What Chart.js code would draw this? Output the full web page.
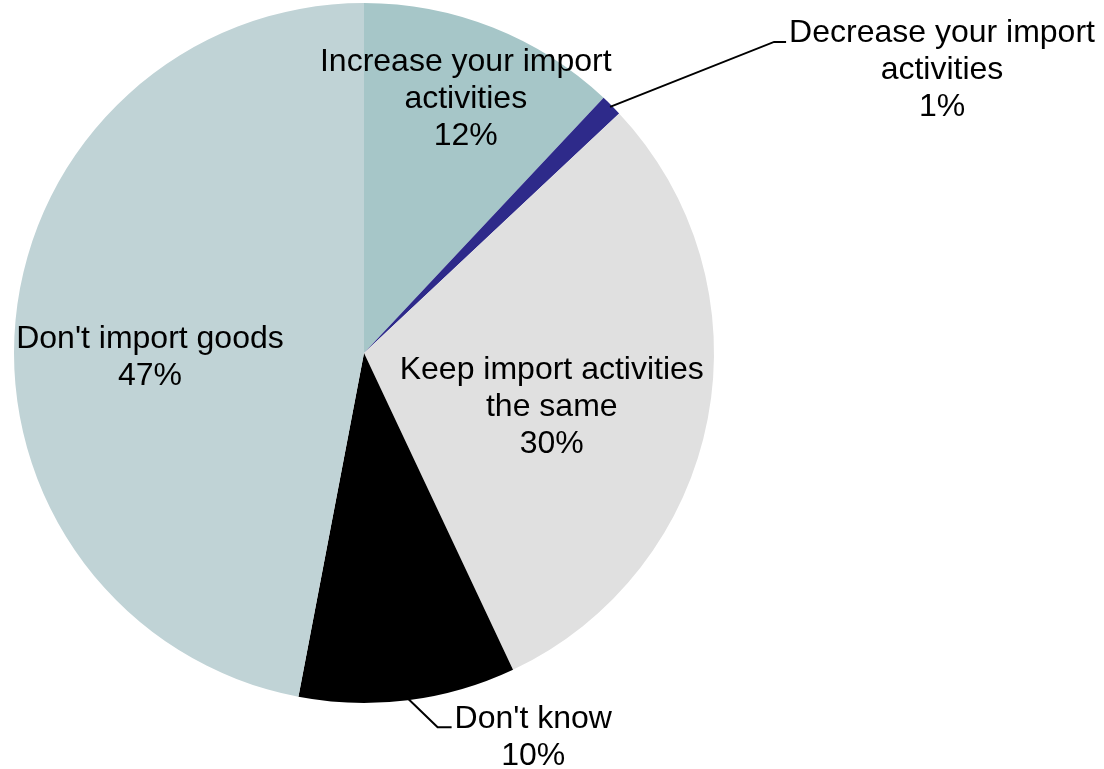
<!DOCTYPE html>
<html lang="en">
<head>
  <meta charset="UTF-8">
  <title>Import activities</title>
  <script src="https://cdn.jsdelivr.net/npm/chart.js"></script>
  <style>
    body {
      margin: 0;
      background: #ffffff;
    }
    canvas {
      display: block;
    }
  </style>
</head>
<body>
  <canvas id="chart" width="1104" height="769"></canvas>

  <script>
    const categories = [
      "Increase your import\nactivities",
      "Decrease your import\nactivities",
      "Keep import activities\nthe same",
      "Don't know",
      "Don't import goods"
    ];
    const shares = [12, 1, 30, 10, 47];
    const sliceColors = ["#a6c6c8", "#2e2a8a", "#e0e0e0", "#000000", "#c0d3d6"];

    // where each label sits: inside the slice (r = fraction of radius + nudge) or as a callout
    const labelStyle = [
      { r: 0.79, dx: 0, dy: 3 },
      { callout: true, ex: 164, ey: -65, tail: 12, ty: -9 },
      { r: 0.52, dx: 9, dy: 20 },
      { callout: true, ex: 30, ey: 29, tail: 14, ty: -8 },
      { r: 0.62, dx: 2, dy: 25 }
    ];

    const FONT = "32px 'Liberation Sans', Arial, sans-serif";
    const LINE_H = 37;

    const pieLabels = {
      id: "pieLabels",
      afterDatasetsDraw(chart) {
        const ctx = chart.ctx;
        const arcs = chart.getDatasetMeta(0).data;
        ctx.save();
        ctx.font = FONT;
        ctx.fillStyle = "#000";
        ctx.textBaseline = "middle";
        arcs.forEach((arc, i) => {
          const lines = categories[i].split("\n").concat(shares[i] + "%");
          const mid = (arc.startAngle + arc.endAngle) / 2;
          const st = labelStyle[i];
          if (!st.callout) {
            const x = arc.x + Math.cos(mid) * arc.outerRadius * st.r + st.dx;
            const y = arc.y + Math.sin(mid) * arc.outerRadius * st.r + st.dy;
            ctx.textAlign = "center";
            const top = y - (lines.length - 1) * LINE_H / 2;
            lines.forEach((t, k) => ctx.fillText(t, x, top + k * LINE_H));
          } else {
            const sx = arc.x + Math.cos(mid) * (arc.outerRadius - 2);
            const sy = arc.y + Math.sin(mid) * (arc.outerRadius - 2);
            const ex = sx + st.ex, ey = sy + st.ey;
            ctx.strokeStyle = "#000";
            ctx.lineWidth = 2;
            ctx.beginPath();
            ctx.moveTo(sx, sy);
            ctx.lineTo(ex, ey);
            ctx.lineTo(ex + st.tail, ey);
            ctx.stroke();
            const w = Math.max(...lines.map(t => ctx.measureText(t).width));
            const cx = ex + st.tail + 3 + w / 2;
            ctx.textAlign = "center";
            const top = ey + st.ty;
            lines.forEach((t, k) => ctx.fillText(t, cx, top + k * LINE_H));
          }
        });
        ctx.restore();
      }
    };

    new Chart(document.getElementById("chart").getContext("2d"), {
      type: "pie",
      data: {
        labels: categories,
        datasets: [{
          data: shares,
          backgroundColor: sliceColors,
          borderWidth: 0
        }]
      },
      options: {
        responsive: false,
        animation: false,
        layout: { padding: { left: 14, right: 390, top: 3, bottom: 66 } },
        plugins: {
          legend: { display: false },
          tooltip: { enabled: false }
        }
      },
      plugins: [pieLabels]
    });
  </script>
</body>
</html>
